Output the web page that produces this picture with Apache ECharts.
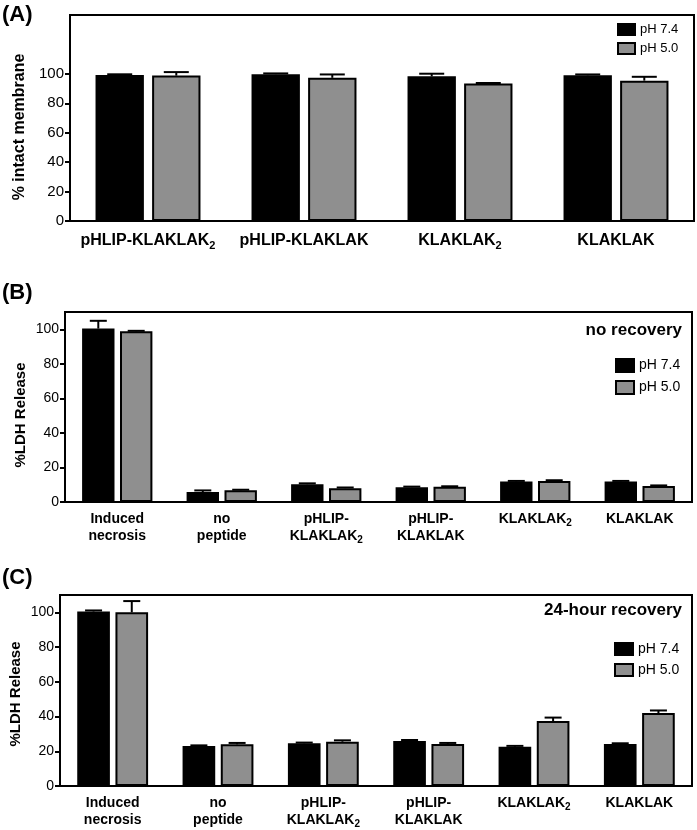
<!DOCTYPE html>
<html>
<head>
<meta charset="utf-8">
<script src="https://cdn.jsdelivr.net/npm/echarts@6/dist/echarts.min.js"></script>
<style>
html,body{margin:0;padding:0;background:#fff;}
#chart{width:697px;height:830px;}
</style>
</head>
<body>
<div id="chart"></div>
<script>
// ---------- data ----------
const seriesNames = ['pH 7.4', 'pH 5.0'];

const catA = ['pHLIP-KLAKLAK₂', 'pHLIP-KLAKLAK', 'KLAKLAK₂', 'KLAKLAK'];
const a74 = [99.2, 99.8, 98.3, 99.0];
const a74err = [0.5, 0.5, 1.8, 0.6];
const a50 = [98.8, 97.3, 93.5, 95.4];
const a50err = [2.4, 2.3, 0.3, 2.6];

const catBC = ['Induced\nnecrosis', 'no\npeptide', 'pHLIP-\nKLAKLAK₂', 'pHLIP-\nKLAKLAK', 'KLAKLAK₂', 'KLAKLAK'];
const b74 = [100.4, 5.8, 10.3, 8.6, 11.9, 11.9];
const b74err = [4.5, 0.9, 0.5, 0.3, 0.3, 0.3];
const b50 = [98.8, 6.8, 8.0, 8.8, 12.1, 9.3];
const b50err = [0.3, 0.3, 0.4, 0.3, 0.5, 0.3];

const c74 = [100.5, 23.0, 24.6, 25.9, 22.6, 24.2];
const c74err = [0.6, 0.4, 0.4, 0.6, 0.5, 0.4];
const c50 = [100.0, 24.0, 25.5, 24.2, 37.4, 42.0];
const c50err = [6.5, 0.8, 0.8, 0.6, 2.0, 1.5];

const yTicksA = [0, 20, 40, 60, 80, 100];
const yTicksBC = [0, 20, 40, 60, 80, 100];

const panelLabels = ['(A)', '(B)', '(C)'];
const yTitles = ['% intact membrane', '%LDH Release', '%LDH Release'];
const panelNotes = ['no recovery', '24-hour recovery'];

// ---------- styling ----------
const FONT = 'Liberation Sans, Arial, sans-serif';
const BARW = 0.31, GAP = 0.17;
const GRAY = '#8f8f8f';

function catFormatter(v) {
  return v.split('\n').map(line => {
    const parts = line.split('₂');
    let s = parts[0] ? '{b|' + parts[0] + '}' : '';
    if (parts.length > 1) {
      s += '{s|2}';
      if (parts[1]) s += '{b|' + parts[1] + '}';
    }
    return s;
  }).join('\n');
}

function xAxis(gi, cats, fs, lh, subfs, sublh, margin) {
  return {
    type: 'category', gridIndex: gi, data: cats,
    axisLine: {lineStyle: {color: '#000', width: 2}},
    axisTick: {alignWithLabel: true, length: 5, lineStyle: {color: '#000', width: 2}},
    axisLabel: {
      interval: 0, margin: margin, formatter: catFormatter,
      rich: {
        b: {fontSize: fs, fontWeight: 'bold', lineHeight: lh, color: '#000', fontFamily: FONT},
        s: {fontSize: subfs, fontWeight: 'bold', lineHeight: sublh, verticalAlign: 'bottom', color: '#000', fontFamily: FONT}
      }
    }
  };
}

function yAxis(gi, max, ticks, fs, margin) {
  return {
    type: 'value', gridIndex: gi, min: 0, max: max, interval: 20,
    splitLine: {show: false},
    axisLine: {show: true, lineStyle: {color: '#000', width: 2}},
    axisTick: {show: true, length: 5, customValues: ticks, lineStyle: {color: '#000', width: 2}},
    axisLabel: {customValues: ticks, margin: margin, fontSize: fs, color: '#000', fontFamily: FONT}
  };
}

function barSeries(gi, name, vals, color) {
  return {
    type: 'bar', name: name, xAxisIndex: gi, yAxisIndex: gi,
    data: vals, barWidth: (BARW * 100) + '%', barGap: (GAP * 100) + '%',
    itemStyle: {color: color, borderColor: '#000', borderWidth: 2},
    emphasis: {disabled: true}, z: 2
  };
}

function errSeries(gi, vals, errs, sign, capW) {
  return {
    type: 'custom', xAxisIndex: gi, yAxisIndex: gi, z: 4,
    data: vals.map((v, i) => [i, v, v + errs[i]]),
    encode: {x: 0, y: [1, 2]},
    renderItem: function (params, api) {
      const i = api.value(0);
      const p0 = api.coord([i, api.value(1)]);
      const p1 = api.coord([i, api.value(2)]);
      const bw = api.size([1, 0])[0];
      const x = p0[0] + sign * bw * BARW * (1 + GAP) / 2;
      const st = {stroke: '#000', lineWidth: 2};
      return {
        type: 'group', children: [
          {type: 'line', shape: {x1: x, y1: p0[1], x2: x, y2: p1[1]}, style: st},
          {type: 'line', shape: {x1: x - capW / 2, y1: p1[1], x2: x + capW / 2, y2: p1[1]}, style: st}
        ]
      };
    }
  };
}

function legend(left, top, w, h, gap, fs) {
  return {
    data: seriesNames, orient: 'vertical', left: left, top: top, padding: 0,
    itemWidth: w, itemHeight: h, itemGap: gap, icon: 'rect', selectedMode: false,
    textStyle: {fontSize: fs, color: '#000', fontFamily: FONT}
  };
}

const gridBox = {show: true, borderColor: '#000', borderWidth: 2, backgroundColor: 'transparent'};

const option = {
  animation: false,
  textStyle: {fontFamily: FONT},
  title: [
    {text: panelLabels[0], left: 2, top: 4, padding: 0, textStyle: {fontSize: 22, fontWeight: 'bold', color: '#000', fontFamily: FONT}},
    {text: panelLabels[1], left: 2, top: 282, padding: 0, textStyle: {fontSize: 22, fontWeight: 'bold', color: '#000', fontFamily: FONT}},
    {text: panelLabels[2], left: 2, top: 567, padding: 0, textStyle: {fontSize: 22, fontWeight: 'bold', color: '#000', fontFamily: FONT}},
    {text: panelNotes[0], right: 15, top: 322, padding: 0, textStyle: {fontSize: 17, fontWeight: 'bold', color: '#000', fontFamily: FONT}},
    {text: panelNotes[1], right: 15, top: 602, padding: 0, textStyle: {fontSize: 17, fontWeight: 'bold', color: '#000', fontFamily: FONT}}
  ],
  legend: [
    legend(617, 23, 17, 11, 6, 13),
    legend(615, 358, 18, 13, 7, 14),
    legend(614, 642, 18, 12, 7, 14)
  ],
  grid: [
    Object.assign({left: 70, top: 15, width: 624, height: 206}, gridBox),
    Object.assign({left: 65, top: 312, width: 627, height: 190}, gridBox),
    Object.assign({left: 60, top: 595, width: 632, height: 191}, gridBox)
  ],
  xAxis: [
    xAxis(0, catA, 16, 20, 11, 14, 10),
    xAxis(1, catBC, 14, 17, 10, 12, 9),
    xAxis(2, catBC, 14, 17, 10, 12, 9)
  ],
  yAxis: [
    yAxis(0, 140, yTicksA, 15, 6),
    yAxis(1, 110, yTicksBC, 14, 6),
    yAxis(2, 110, yTicksBC, 14, 6)
  ],
  graphic: [
    {type: 'text', x: 20, y: 127, rotation: Math.PI / 2, style: {text: yTitles[0], align: 'center', verticalAlign: 'middle', font: 'bold 16px ' + FONT, fill: '#000'}},
    {type: 'text', x: 21, y: 415, rotation: Math.PI / 2, style: {text: yTitles[1], align: 'center', verticalAlign: 'middle', font: 'bold 15px ' + FONT, fill: '#000'}},
    {type: 'text', x: 16, y: 694, rotation: Math.PI / 2, style: {text: yTitles[2], align: 'center', verticalAlign: 'middle', font: 'bold 15px ' + FONT, fill: '#000'}}
  ],
  series: [
    barSeries(0, seriesNames[0], a74, '#000'),
    barSeries(0, seriesNames[1], a50, GRAY),
    errSeries(0, a74, a74err, -1, 25),
    errSeries(0, a50, a50err, 1, 25),
    barSeries(1, seriesNames[0], b74, '#000'),
    barSeries(1, seriesNames[1], b50, GRAY),
    errSeries(1, b74, b74err, -1, 17),
    errSeries(1, b50, b50err, 1, 17),
    barSeries(2, seriesNames[0], c74, '#000'),
    barSeries(2, seriesNames[1], c50, GRAY),
    errSeries(2, c74, c74err, -1, 17),
    errSeries(2, c50, c50err, 1, 17)
  ]
};

const chart = echarts.init(document.getElementById('chart'), null, {renderer: 'canvas'});
chart.setOption(option);
</script>
</body>
</html>
